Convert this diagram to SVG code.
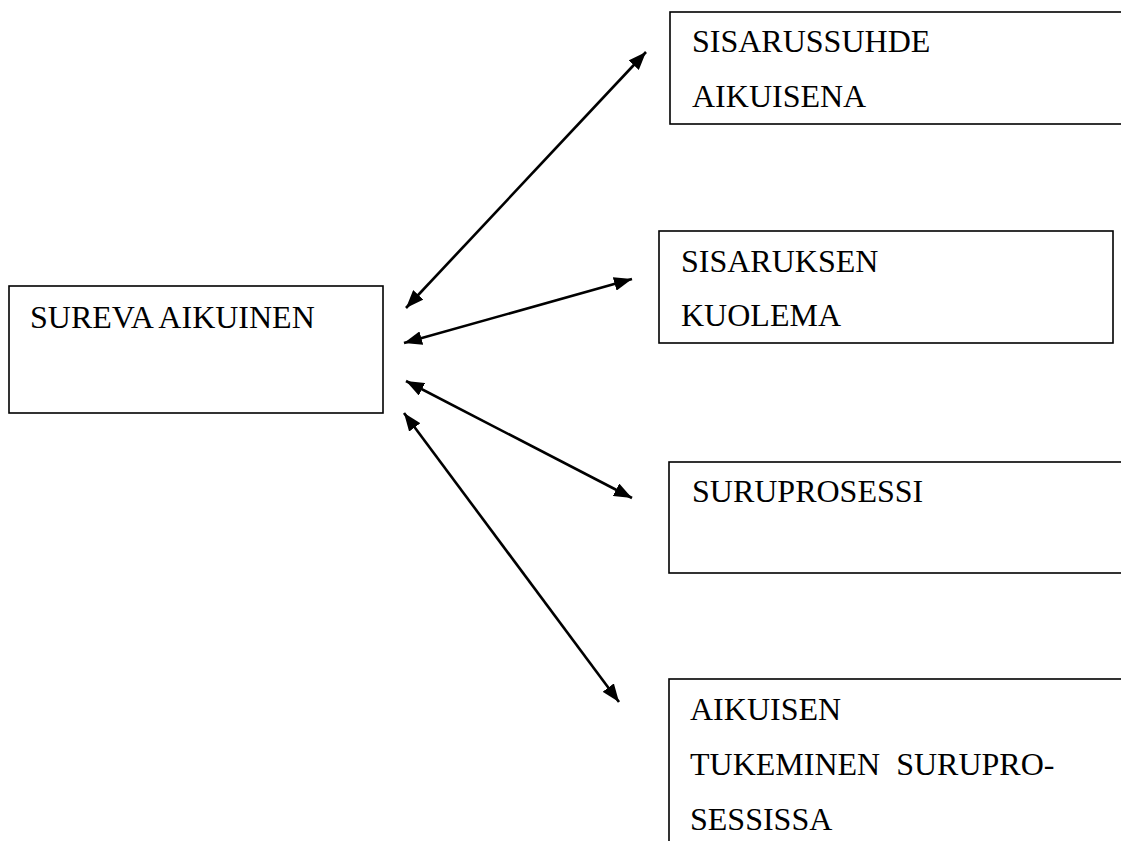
<svg xmlns="http://www.w3.org/2000/svg" width="1121" height="841" viewBox="0 0 1121 841">
<style>
.box{fill:#fff;stroke:#000;stroke-width:1.6}
.t{font-family:'Liberation Serif','DejaVu Serif',serif;font-size:32px;fill:#000;white-space:pre}
.c{stroke:#000;stroke-width:2.6;fill:none;marker-start:url(#ah);marker-end:url(#ah)}
</style>
<defs>
<marker id="ah" viewBox="0 0 18 14" refX="18" refY="7" markerWidth="18" markerHeight="14" markerUnits="userSpaceOnUse" orient="auto-start-reverse">
<path d="M0,0 L18,7 L0,14 z" fill="#000"/>
</marker>
</defs>
<rect width="1121" height="841" fill="#fff"/>
<g id="n-sureva">
<rect class="box" x="9" y="286" width="374" height="127"/>
<text class="t" font-family="Liberation Serif, serif" x="30" y="328">SUREVA AIKUINEN</text>
</g>
<g id="n-sisarussuhde">
<rect class="box" x="670" y="12" width="470" height="112"/>
<text class="t" font-family="Liberation Serif, serif" x="692" y="52">SISARUSSUHDE</text>
<text class="t" font-family="Liberation Serif, serif" x="692" y="107">AIKUISENA</text>
</g>
<g id="n-kuolema">
<rect class="box" x="659" y="231" width="454" height="112"/>
<text class="t" font-family="Liberation Serif, serif" x="681" y="272">SISARUKSEN</text>
<text class="t" font-family="Liberation Serif, serif" x="681" y="326">KUOLEMA</text>
</g>
<g id="n-suruprosessi">
<rect class="box" x="669" y="462" width="470" height="111"/>
<text class="t" font-family="Liberation Serif, serif" x="692" y="502">SURUPROSESSI</text>
</g>
<g id="n-tukeminen">
<rect class="box" x="669" y="679" width="470" height="180"/>
<text class="t" font-family="Liberation Serif, serif" x="690" y="720">AIKUISEN</text>
<text class="t" font-family="Liberation Serif, serif" x="690" y="775">TUKEMINEN  SURUPRO-</text>
<text class="t" font-family="Liberation Serif, serif" x="690" y="830">SESSISSA</text>
</g>
<g id="connectors">
<line class="c" x1="406" y1="308" x2="646" y2="52"/>
<line class="c" x1="404" y1="343" x2="632" y2="279"/>
<line class="c" x1="406" y1="381" x2="632" y2="498"/>
<line class="c" x1="404" y1="413" x2="619" y2="702"/>
</g>
</svg>
